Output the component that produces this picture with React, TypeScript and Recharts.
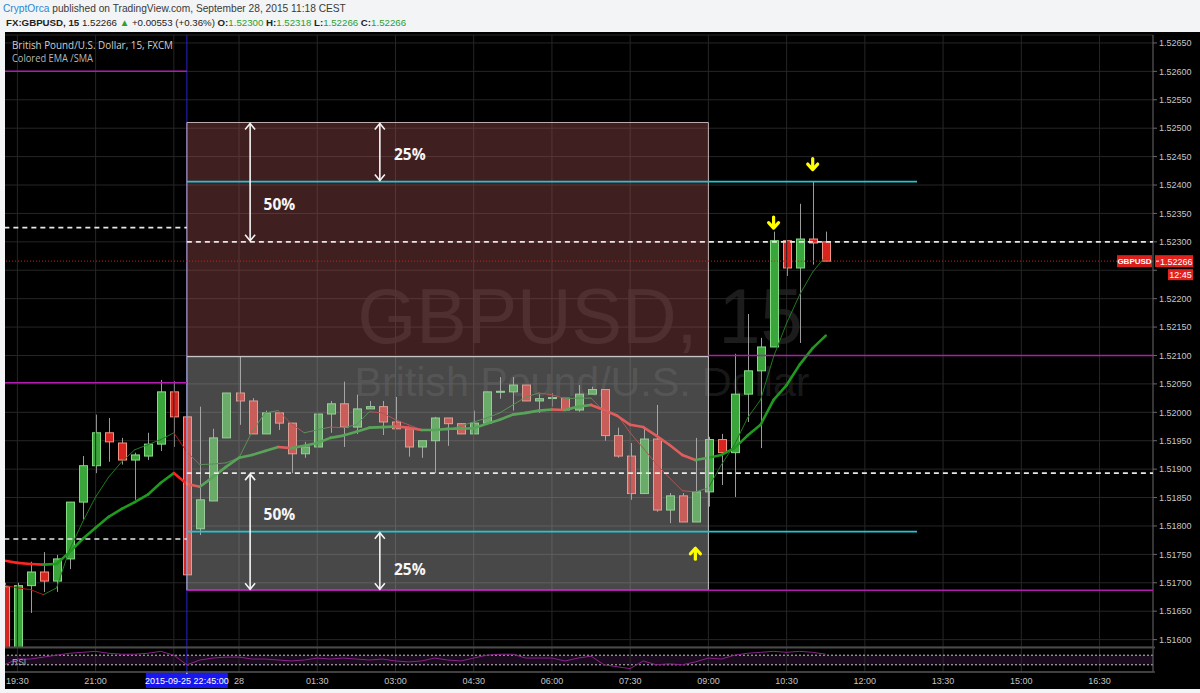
import React from "react";
import {
  ComposedChart,
  Bar,
  Line,
  XAxis,
  YAxis,
  CartesianGrid,
  ReferenceLine,
  ReferenceArea,
  ReferenceDot,
} from "recharts";

// GBPUSD 15 min bars, Fri 2015-09-25 19:15 .. Mon 2015-09-28 11:15 (weekend skipped)
const opens = [
  1.51693, 1.51575, 1.51695, 1.51719, 1.51703, 1.51742, 1.51842, 1.51906, 1.51964, 1.51946,
  1.51916, 1.51923, 1.51944, 1.52036, 1.51992, 1.51795, 1.51844, 1.51955, 1.52034, 1.5202,
  1.51962, 1.51999, 1.51981, 1.51927, 1.51939, 1.51997, 1.52015, 1.51974, 1.52006, 1.5201,
  1.51983, 1.51971, 1.51939, 1.5195, 1.5199, 1.5198, 1.51962, 1.51981, 1.52036, 1.52036,
  1.52048, 1.5202, 1.52025, 1.52025, 1.52004, 1.52032, 1.5204, 1.51959, 1.51923, 1.51857,
  1.51953, 1.51828, 1.51853, 1.51807, 1.5186, 1.51952, 1.51929, 1.52032, 1.52073, 1.52115,
  1.52302, 1.52254, 1.52305, 1.523,
];
const highs = [
  1.517, 1.517, 1.51737, 1.51754, 1.51749, 1.51842, 1.51923, 1.51996, 1.5199, 1.51955,
  1.51929, 1.51964, 1.52057, 1.52055, 1.51992, 1.5201, 1.51971, 1.52034, 1.52098, 1.52025,
  1.52003, 1.52, 1.51981, 1.51948, 1.51997, 1.5202, 1.52054, 1.52031, 1.5202, 1.5202,
  1.52027, 1.51971, 1.5195, 1.51992, 1.5199, 1.51981, 1.52003, 1.52036, 1.52062, 1.52062,
  1.52048, 1.52032, 1.52034, 1.52025, 1.52048, 1.52045, 1.5204, 1.51973, 1.51946, 1.51973,
  1.52013, 1.51858, 1.51858, 1.51955, 1.51957, 1.51962, 1.52103, 1.52173, 1.52131, 1.52318,
  1.52302, 1.52367, 1.52407, 1.52318,
];
const lows = [
  1.5156, 1.5156, 1.51647, 1.51684, 1.51684, 1.51724, 1.51811, 1.51893, 1.51913, 1.51908,
  1.51846, 1.51916, 1.51932, 1.51939, 1.51714, 1.51784, 1.51844, 1.51955, 1.51978, 1.51962,
  1.51962, 1.51969, 1.51893, 1.5192, 1.51939, 1.51964, 1.51939, 1.51962, 1.52006, 1.5196,
  1.51971, 1.51922, 1.5192, 1.51893, 1.51941, 1.51962, 1.51962, 1.51981, 1.52024, 1.52003,
  1.5202, 1.51999, 1.5201, 1.52003, 1.52001, 1.52032, 1.5195, 1.5192, 1.51846, 1.51857,
  1.51825, 1.51805, 1.51807, 1.51807, 1.51834, 1.51872, 1.51851, 1.51983, 1.51937, 1.52115,
  1.5224, 1.52122, 1.5226, 1.52266,
];
const closes = [
  1.5157, 1.51695, 1.51719, 1.51703, 1.51742, 1.51842, 1.51906, 1.51964, 1.51948, 1.51916,
  1.51925, 1.51944, 1.52036, 1.51992, 1.51714, 1.51846, 1.51955, 1.52034, 1.5202, 1.51962,
  1.51999, 1.51981, 1.51927, 1.51939, 1.51997, 1.52015, 1.51974, 1.52006, 1.5201, 1.51983,
  1.51971, 1.51939, 1.5195, 1.5199, 1.5198, 1.51962, 1.51981, 1.52036, 1.52037, 1.52048,
  1.5202, 1.52024, 1.52026, 1.52004, 1.52032, 1.5204, 1.51959, 1.51923, 1.51857, 1.51953,
  1.51828, 1.51853, 1.51807, 1.5186, 1.51952, 1.51929, 1.52032, 1.52073, 1.52115, 1.52302,
  1.52254, 1.52305, 1.52298, 1.52266,
];

// "Colored EMA /SMA" study: thin fast line and thick slow line
const emaFast = [
  1.51696, 1.51691, 1.51688, 1.51679, 1.51691, 1.51758, 1.51807, 1.51851, 1.51886, 1.51913,
  1.51934, 1.51943, 1.51952, 1.51964, 1.5193, 1.51908, 1.51909, 1.51911, 1.5192, 1.51966,
  1.51999, 1.52003, 1.5198, 1.51964, 1.51969, 1.51974, 1.51973, 1.51978, 1.52001, 1.51999,
  1.51987, 1.51978, 1.51969, 1.51969, 1.51969, 1.51976, 1.51983, 1.5199, 1.51999, 1.52013,
  1.52027, 1.52034, 1.52031, 1.52024, 1.52025, 1.52025, 1.52001, 1.51996, 1.51964, 1.51937,
  1.51909, 1.51885, 1.51862, 1.5186, 1.51867, 1.51908, 1.51943, 1.5199, 1.52022, 1.52098,
  1.52157, 1.52207, 1.52247, 1.52275,
];
const emaSlow = [
  1.51739, 1.51735, 1.51733, 1.51732, 1.51733, 1.51754, 1.51777, 1.51797, 1.51816, 1.5183,
  1.51842, 1.51855, 1.51876, 1.51893, 1.51874, 1.51869, 1.51886, 1.51904, 1.5192, 1.51925,
  1.51932, 1.51939, 1.51937, 1.51941, 1.51946, 1.51955, 1.51959, 1.51966, 1.51973, 1.51974,
  1.51975, 1.51973, 1.51969, 1.51969, 1.51971, 1.51971, 1.51972, 1.5198, 1.51987, 1.51996,
  1.51999, 1.52003, 1.52005, 1.52004, 1.5201, 1.52013, 1.52004, 1.51994, 1.51978, 1.51974,
  1.51959, 1.51943, 1.51925, 1.51916, 1.5192, 1.51925, 1.51937, 1.51959, 1.51978, 1.52022,
  1.52048, 1.52084, 1.52113, 1.52135,
];
const rsiValues = [
  30, 54, 54, 62, 70, 78, 82, 86, 78, 74, 74, 78, 86, 70, 30, 50, 58, 62, 62, 54,
  54, 50, 46, 50, 58, 54, 58, 54, 50, 54, 46, 42, 46, 58, 50, 46, 58, 70, 74, 74,
  58, 58, 58, 46, 58, 66, 30, 22, 14, 46, 30, 34, 30, 42, 58, 54, 70, 78, 82, 86,
  82, 86, 82, 74,
];

const priceTicks = [
  1.516, 1.5165, 1.517, 1.5175, 1.518, 1.5185, 1.519, 1.5195, 1.52, 1.5205, 1.521,
  1.5215, 1.522, 1.5225, 1.523, 1.5235, 1.524, 1.5245, 1.525, 1.5255, 1.526, 1.5265,
];
const gridTicks = [1, 7, 13, 18, 24, 30, 36, 42, 48, 54, 60, 66, 72, 78, 84];
const axisTicks = [1, 7, 14, 18, 24, 30, 36, 42, 48, 54, 60, 66, 72, 78, 84];
const axisLabels = [
  "19:30", "21:00", "2015-09-25 22:45:00", "28", "01:30", "03:00", "04:30", "06:00",
  "07:30", "09:00", "10:30", "12:00", "13:30", "15:00", "16:30",
];
const markedBar = 14;
const lastPrice = 1.52266;

// drawings on the chart
const boxLeft = 14;
const boxRight = 54;
const boxTop = 1.5251;
const boxMid = 1.52098;
const boxBottom = 1.51687;
const levelPrices = [1.526, 1.52052, 1.52325, 1.51777, 1.523, 1.51893, 1.52406, 1.5179, 1.521, 1.51687];
const levelFrom = [0, 0, 0, 0, 14, 14, 14, 14, 54, 14];
const levelTo = [14, 14, 14, 14, 88.1, 88.1, 70, 70, 88.1, 88.1];
const levelKinds = ["mag", "mag", "dash", "dash", "dash", "dash", "cyan", "cyan", "mag", "mag"];
const arrowX = [18.85, 28.8, 18.85, 28.8];
const arrowFrom = [1.5251, 1.5251, 1.51893, 1.5179];
const arrowTo = [1.523, 1.52406, 1.51687, 1.51687];
const pctText = ["50%", "25%", "50%", "25%"];
const pctX = [21.1, 31.1, 21.1, 31.1];
const pctY = [1.52365, 1.52453, 1.51819, 1.51723];
const signalX = [59, 62, 53];
const signalY = [1.52333, 1.52436, 1.51752];
const signalDir = ["down", "down", "up"];

const X_DOMAIN = [0.05, 88.1];
const UP = "#3aa53a";
const UP_EDGE = "#86dc86";
const DOWN = "#d8231f";
const DOWN_EDGE = "#f39382";
const AXIS_FONT = "'Liberation Sans', Arial, sans-serif";
const TOP = 800;

const candles = opens.map((o, i) => ({
  i,
  open: o,
  high: highs[i],
  low: lows[i],
  close: closes[i],
  range: [lows[i], highs[i]],
}));
const rsiData = rsiValues.map((v, i) => ({ i, rsi: v }));

const Candle = (props: any) => {
  const { x, y, width, height, payload } = props;
  const { open, close, high, low } = payload;
  const up = close >= open;
  const top = Math.min(y, y + height);
  const h = Math.abs(height);
  const span = high - low;
  const py = (p: number) => (span > 0 ? top + ((high - p) / span) * h : top);
  const cx = Math.round(x + width / 2) + 0.5;
  const bTop = py(Math.max(open, close));
  const bBot = py(Math.min(open, close));
  return (
    <g>
      <line x1={cx} x2={cx} y1={top} y2={top + h} stroke="#9c9c9c" strokeWidth={1} />
      <rect
        x={cx - 4}
        y={bTop}
        width={8}
        height={Math.max(bBot - bTop, 1)}
        fill={up ? UP : DOWN}
        stroke={up ? UP_EDGE : DOWN_EDGE}
        strokeWidth={1}
      />
    </g>
  );
};

const DoubleArrow = (props: any) => {
  const { x1, y1, y2 } = props;
  const top = Math.min(y1, y2);
  const bot = Math.max(y1, y2);
  return (
    <g stroke="#f4f4f4" strokeWidth={1.6} fill="none">
      <line x1={x1} x2={x1} y1={top + 1} y2={bot - 1} />
      <polyline points={`${x1 - 5},${top + 7} ${x1},${top + 1} ${x1 + 5},${top + 7}`} />
      <polyline points={`${x1 - 5},${bot - 7} ${x1},${bot - 1} ${x1 + 5},${bot - 7}`} />
    </g>
  );
};

const PctLabel = (text: string) => (props: any) => (
  <text
    x={props.cx}
    y={props.cy + 5}
    textAnchor="middle"
    fill="#f6f6f6"
    fontSize={15.5}
    fontWeight="bold"
    fontFamily="'Open Sans', sans-serif"
  >
    {text}
  </text>
);

const Signal = (dir: string) => (props: any) => {
  const { cx, cy } = props;
  const s = dir === "down" ? 1 : -1;
  return (
    <g stroke="#ffff00" strokeWidth={3.2} fill="none" strokeLinecap="round" strokeLinejoin="round">
      <line x1={cx} x2={cx} y1={cy - 6 * s} y2={cy + 4 * s} />
      <polyline points={`${cx - 5},${cy - 0.5 * s} ${cx},${cy + 5 * s} ${cx + 5},${cy - 0.5 * s}`} />
    </g>
  );
};

const PriceTag = (props: any) => {
  const { viewBox } = props;
  const right = viewBox.x + viewBox.width;
  const yy = viewBox.y;
  return (
    <g fontFamily={AXIS_FONT}>
      <rect x={right - 36} y={yy - 6} width={35} height={12} fill="#d9201c" />
      <text x={right - 18.5} y={yy + 3} fill="#fff" fontSize={8} fontWeight="bold" textAnchor="middle">
        GBPUSD
      </text>
      <rect x={right + 2} y={yy - 6} width={38} height={12} fill="#e3211d" />
      <line x1={right + 3} x2={right + 6} y1={yy} y2={yy} stroke="#fff" />
      <text x={right + 7} y={yy + 3.5} fill="#fff" fontSize={9}>
        {lastPrice.toFixed(5)}
      </text>
      <rect x={right + 15} y={yy + 8} width={25} height={11} fill="#e3211d" />
      <text x={right + 27.5} y={yy + 16.5} fill="#fff" fontSize={9} textAnchor="middle">
        12:45
      </text>
    </g>
  );
};

const TimeTick = (props: any) => {
  const { x, y, payload } = props;
  const k = axisTicks.indexOf(payload.value);
  const label = axisLabels[k];
  if (payload.value === markedBar) {
    return (
      <g fontFamily={AXIS_FONT}>
        <rect x={x - 41} y={y} width={82} height={16} fill="#1717ee" />
        <line x1={x} x2={x} y1={y} y2={y + 2} stroke="#fff" />
        <text x={x} y={y + 11.5} fill="#fff" fontSize={9} textAnchor="middle">
          {label}
        </text>
      </g>
    );
  }
  return (
    <text x={x} y={y + 11.5} fill="#c4c4c4" fontSize={9} textAnchor="middle" fontFamily={AXIS_FONT}>
      {label}
    </text>
  );
};

const levelStyle = (kind: string) => {
  if (kind === "mag") return { stroke: "#b01cb0", strokeWidth: 1.5 };
  if (kind === "cyan") return { stroke: "#1cc8d6", strokeWidth: 1.6 };
  return { stroke: "#e8e8e8", strokeWidth: 1.6, strokeDasharray: "5 4" };
};

const emaSegments = (vals: number[], up: string, down: string, width: number, key: string) =>
  vals.slice(1).map((v, k) => (
    <ReferenceLine
      key={`${key}${k}`}
      segment={[
        { x: k, y: vals[k] },
        { x: k + 1, y: v },
      ]}
      stroke={v >= vals[k] ? up : down}
      strokeWidth={width}
      strokeLinecap="round"
      ifOverflow="hidden"
    />
  ));

const GREEN_TXT = "#2ea02e";

const Header = () => (
  <svg
    width={1200}
    height={32}
    style={{ position: "absolute", left: 0, top: 0, whiteSpace: "pre" }}
    fontFamily={AXIS_FONT}
    fontSize={9.7}
  >
    <text x={3} y={11.5} fill="#3a3a3a" fontSize={10.2}>
      <tspan fill="#2b88d4">CryptOrca</tspan>
      <tspan> published on TradingView.com, September 28, 2015 11:18 CEST</tspan>
    </text>
    <text x={6} y={26} fill="#222">
      <tspan fontWeight="bold">FX:GBPUSD, 15</tspan>
      <tspan> 1.52266 </tspan>
      <tspan fill={GREEN_TXT}>▲</tspan>
      <tspan> +0.00553 (+0.36%) </tspan>
      <tspan fontWeight="bold">O:</tspan>
      <tspan fill={GREEN_TXT}>1.52300 </tspan>
      <tspan fontWeight="bold">H:</tspan>
      <tspan fill={GREEN_TXT}>1.52318 </tspan>
      <tspan fontWeight="bold">L:</tspan>
      <tspan fill={GREEN_TXT}>1.52266 </tspan>
      <tspan fontWeight="bold">C:</tspan>
      <tspan fill={GREEN_TXT}>1.52266</tspan>
    </text>
  </svg>
);

const Backdrop = () => (
  <svg width={1195} height={657} style={{ position: "absolute", left: 0, top: 0 }}>
    <text
      x={575}
      y={311}
      textAnchor="middle"
      fontSize={78}
      fontFamily="'Liberation Sans', Arial, sans-serif"
      fill="#ffffff"
      fillOpacity={0.11}
      textLength={445}
      lengthAdjust="spacingAndGlyphs"
    >
      GBPUSD, 15
    </text>
    <text
      x={577}
      y={364}
      textAnchor="middle"
      fontSize={40}
      fontFamily="'Liberation Sans', Arial, sans-serif"
      fill="#ffffff"
      fillOpacity={0.11}
      textLength={455}
      lengthAdjust="spacingAndGlyphs"
    >
      British Pound/U.S. Dollar
    </text>
  </svg>
);

const Overlay = () => (
  <svg width={1195} height={657} style={{ position: "absolute", left: 0, top: 0, pointerEvents: "none" }}>
    <text x={7} y={17} fontSize={10.5} fill="#cfcfcf" fontFamily="'Open Sans', sans-serif" textLength={161} lengthAdjust="spacingAndGlyphs">
      British Pound/U.S. Dollar, 15, FXCM
    </text>
    <text x={7} y={30} fontSize={10.5} fill="#b9b9b9" fontFamily="'Open Sans', sans-serif" textLength={81} lengthAdjust="spacingAndGlyphs">
      Colored EMA /SMA
    </text>
    <text x={7} y={633} fontSize={8.5} fill="#b0b0b0" fontFamily={AXIS_FONT}>
      RSI
    </text>
    <line x1={0} x2={1150} y1={615.5} y2={615.5} stroke="#4a4a4a" strokeWidth={2} />
    <line x1={0} x2={1150} y1={640} y2={640} stroke="#4a4a4a" strokeWidth={1.5} />
  </svg>
);

const App = () => (
  <div
    style={{
      position: "absolute",
      left: 0,
      top: 0,
      width: 1200,
      height: 693,
      background: "#f2f4f5",
      overflow: "hidden",
    }}
  >
    <Header />
    <div style={{ position: "absolute", left: 5, top: 32, width: 1195, height: 657, background: "#000" }}>
      <Backdrop />
      <div style={{ position: "absolute", left: 0, top: 0 }}>
        <ComposedChart width={1191} height={615} data={candles} margin={{ top: 3, right: 0, bottom: 0, left: 0 }}>
          <CartesianGrid vertical={false} stroke="#262626" />
          <XAxis dataKey="i" type="number" domain={X_DOMAIN} allowDataOverflow hide />
          <YAxis
            orientation="right"
            width={43}
            domain={[1.51587, 1.52664]}
            allowDataOverflow
            ticks={priceTicks}
            interval={0}
            tickFormatter={(v: number) => (Math.abs(v - 1.5225) < 1e-7 ? "" : v.toFixed(5))}
            tick={{ fill: "#c6c6c6", fontSize: 9, fontFamily: AXIS_FONT }}
            tickSize={4}
            tickMargin={2}
            stroke="#6a6a6a"
          />
          {gridTicks.map((t) => (
            <ReferenceLine key={`g${t}`} x={t} stroke="#262626" />
          ))}
          <ReferenceLine x={markedBar} stroke="#2424c8" />
          <Bar dataKey="range" barSize={8} shape={<Candle />} isAnimationActive={false} />
          {emaSegments(emaFast, "#1f7a1f", "#b01616", 1, "f")}
          {emaSegments(emaSlow, "#1f9a1f", "#ff2424", 2.6, "s")}
          <ReferenceArea
            x1={boxLeft}
            x2={boxRight}
            y1={boxMid}
            y2={boxTop}
            fill="#a04e50"
            fillOpacity={0.4}
            stroke="#cdbcbc"
            strokeOpacity={0.9}
            zIndex={700}
          />
          <ReferenceArea
            x1={boxLeft}
            x2={boxRight}
            y1={boxBottom}
            y2={boxMid}
            fill="#b4b4b4"
            fillOpacity={0.4}
            stroke="#cfcfcf"
            strokeOpacity={0.9}
            zIndex={700}
          />
          {levelPrices.map((p, k) => (
            <ReferenceLine
              key={`l${k}`}
              segment={[
                { x: levelFrom[k], y: p },
                { x: levelTo[k], y: p },
              ]}
              ifOverflow="hidden"
              zIndex={TOP}
              {...levelStyle(levelKinds[k])}
            />
          ))}
          <ReferenceLine
            y={lastPrice}
            stroke="#e01818"
            strokeDasharray="1 2"
            zIndex={TOP}
            label={<PriceTag />}
          />
          {arrowX.map((ax, k) => (
            <ReferenceLine
              key={`a${k}`}
              segment={[
                { x: ax, y: arrowFrom[k] },
                { x: ax, y: arrowTo[k] },
              ]}
              zIndex={TOP}
              shape={<DoubleArrow />}
            />
          ))}
          {pctText.map((t, k) => (
            <ReferenceDot key={`p${k}`} x={pctX[k]} y={pctY[k]} r={1} zIndex={TOP} shape={PctLabel(t)} />
          ))}
          {signalX.map((sx, k) => (
            <ReferenceDot key={`s${k}`} x={sx} y={signalY[k]} r={1} zIndex={TOP} shape={Signal(signalDir[k])} />
          ))}
        </ComposedChart>
      </div>
      <div style={{ position: "absolute", left: 0, top: 616 }}>
        <ComposedChart width={1191} height={41} data={rsiData} margin={{ top: 0, right: 0, bottom: 0, left: 0 }}>
          <XAxis
            dataKey="i"
            type="number"
            domain={X_DOMAIN}
            allowDataOverflow
            ticks={axisTicks}
            interval={0}
            height={17}
            tickLine={false}
            tickSize={0}
            tickMargin={0}
            stroke="#555"
            tick={<TimeTick />}
          />
          <YAxis orientation="right" width={43} domain={[0, 100]} tick={false} tickLine={false} stroke="#6a6a6a" />
          <ReferenceArea y1={30} y2={70} fill="#1a0b1e" fillOpacity={1} />
          {gridTicks.map((t) => (
            <ReferenceLine key={`rg${t}`} x={t} stroke="#2a2a2a" />
          ))}
          <ReferenceLine x={markedBar} stroke="#2424c8" />
          <ReferenceLine y={70} stroke="#c8c8c8" strokeDasharray="2 2" />
          <ReferenceLine y={30} stroke="#c8c8c8" strokeDasharray="2 2" />
          <Line dataKey="rsi" stroke="#8a248a" strokeWidth={1} dot={false} isAnimationActive={false} />
        </ComposedChart>
      </div>
      <Overlay />
    </div>
  </div>
);

export default App;
